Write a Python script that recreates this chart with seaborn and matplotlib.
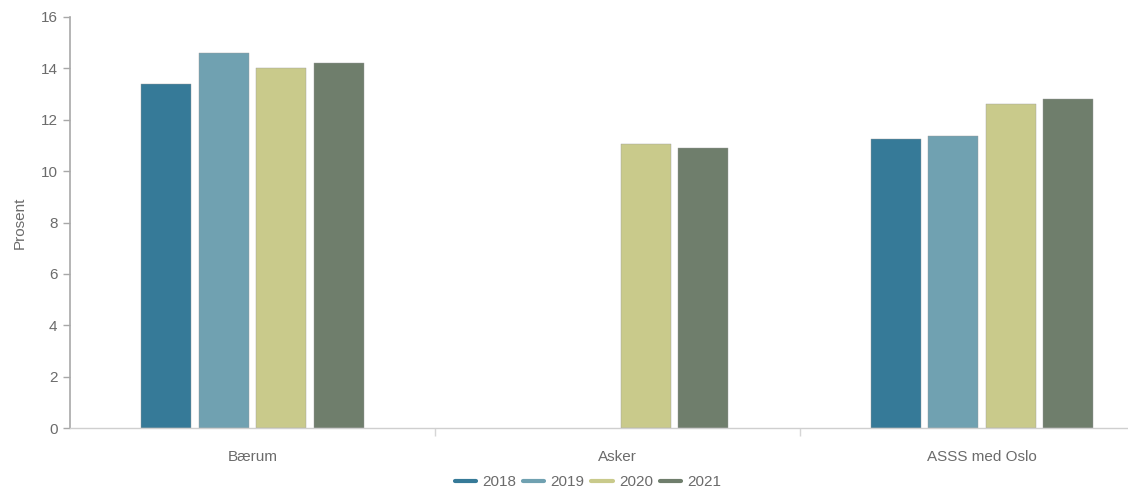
import matplotlib
matplotlib.use("Agg")
import matplotlib.pyplot as plt
import numpy as np
import pandas as pd
import seaborn as sns
from matplotlib.lines import Line2D

# ----- data ------------------------------------------------------------------
regions = ["Bærum", "Asker", "ASSS med Oslo"]
years = ["2018", "2019", "2020", "2021"]
v2018 = [13.4, np.nan, 11.25]
v2019 = [14.6, np.nan, 11.35]
v2020 = [14.0, 11.05, 12.6]
v2021 = [14.2, 10.9, 12.8]

YEAR_COLORS = {"2018": "#367a98", "2019": "#70a1b1", "2020": "#c9ca8b",
               "2021": "#6f7e6c"}
GREY = "#6b6b6b"

df = pd.DataFrame({"region": regions, "2018": v2018, "2019": v2019,
                   "2020": v2020, "2021": v2021})
df = df.melt(id_vars="region", var_name="year", value_name="pct")

sns.set_theme(style="white")
plt.rcParams["font.family"] = ["Liberation Sans", "DejaVu Sans"]

fig = plt.figure(figsize=(11.28, 4.91), dpi=100)
ax = fig.add_axes([70 / 1128, 1 - 428 / 491, 1 - 70 / 1128, (428 - 17) / 491])

sns.barplot(data=df, x="region", y="pct", hue="year", order=regions,
            hue_order=years, palette=YEAR_COLORS, width=0.63, gap=0.13,
            saturation=1, edgecolor="#9a9a9a", linewidth=0.3, ax=ax,
            legend=False)

ax.set_ylim(0, 16)
ax.set_xlim(-0.5, 2.4)
ax.set_yticks(np.arange(0, 17, 2))
ax.set_xlabel("")
ax.set_ylabel("Prosent", color=GREY, fontsize=11, labelpad=10)

for side in ("top", "right"):
    ax.spines[side].set_visible(False)
ax.spines["left"].set_color("#a8a8a8")
ax.spines["left"].set_linewidth(1.2)
ax.spines["bottom"].set_color("#cfcfcf")
ax.spines["bottom"].set_linewidth(1.0)

ax.tick_params(axis="y", left=True, length=5, width=1, color="#a8a8a8",
               labelsize=11, labelcolor=GREY, pad=4)
ax.tick_params(axis="x", which="major", bottom=False, labelsize=11,
               labelcolor=GREY, pad=10)
ax.set_xticks([0.5, 1.5], minor=True)
ax.tick_params(axis="x", which="minor", bottom=True, length=6, width=1,
               color="#d6d6d6")

handles = [Line2D([0], [0], color=YEAR_COLORS[y], lw=3) for y in years]
fig.legend(handles, years, loc="center", bbox_to_anchor=(588 / 1128, 9 / 491),
           ncol=4, frameon=False, fontsize=11, labelcolor=GREY,
           handlelength=1.4, handletextpad=0.4, columnspacing=0.45)

fig.savefig("out.png", dpi=100)
plt.close(fig)
